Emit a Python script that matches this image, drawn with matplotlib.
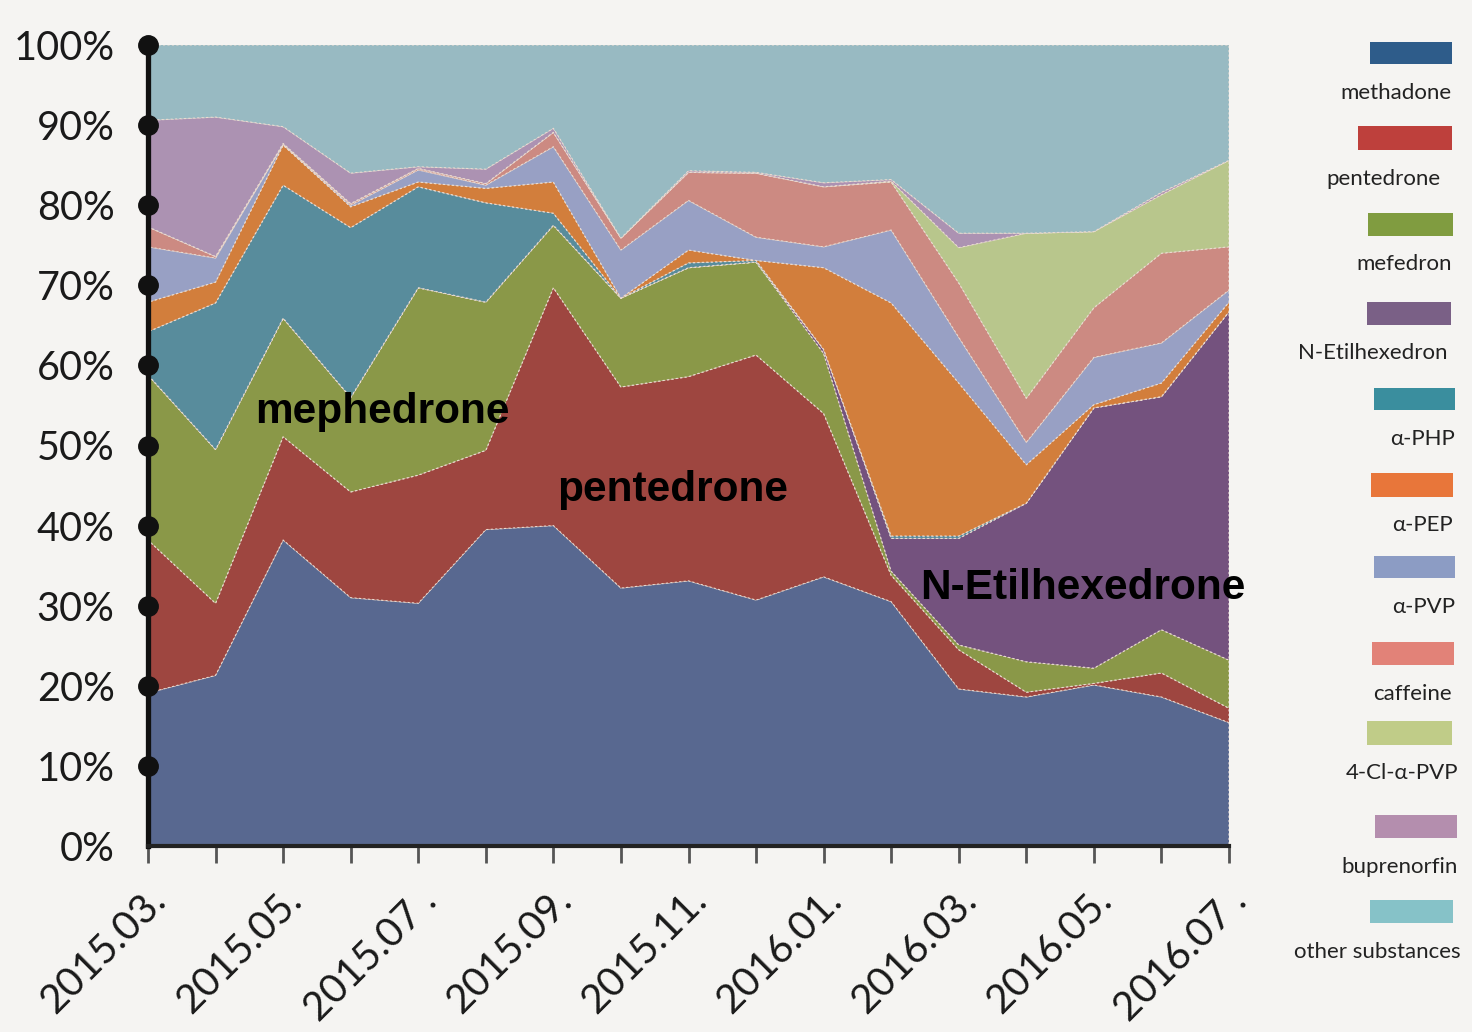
import numpy as np
import matplotlib
matplotlib.use("Agg")
import matplotlib.pyplot as plt
import matplotlib.transforms as mtransforms
from matplotlib.patches import Rectangle

# ---------------- data (percent of samples) ----------------
months = ["2015.03", "2015.04", "2015.05", "2015.06", "2015.07", "2015.08", "2015.09",
          "2015.10", "2015.11", "2015.12", "2016.01", "2016.02", "2016.03", "2016.04",
          "2016.05", "2016.06", "2016.07"]
tick_labels = ["2015.03.", "", "2015.05.", "", "2015.07 .", "", "2015.09.", "",
               "2015.11.", "", "2016.01.", "", "2016.03.", "", "2016.05.", "", "2016.07 ."]

series_names = ["methadone", "pentedrone", "mefedron", "N-Etilhexedron", "α-PHP", "α-PEP",
                "α-PVP", "caffeine", "4-Cl-α-PVP", "buprenorfin", "other substances"]

methadone = [19.1, 21.3, 38.2, 31.0, 30.3, 39.5, 40.0, 32.2, 33.1, 30.7, 33.6, 30.5, 19.6, 18.6, 20.1, 18.6, 15.4]
pentedrone = [19.1, 9.0, 12.9, 13.2, 16.0, 9.9, 29.7, 25.1, 25.5, 30.6, 20.4, 3.3, 4.9, 0.6, 0.2, 3.0, 1.8]
mefedron = [20.6, 19.2, 14.8, 11.8, 23.4, 18.5, 7.8, 11.1, 13.6, 11.6, 7.5, 0.5, 0.6, 3.8, 1.9, 5.4, 6.0]
n_etilhexedron = [0, 0, 0, 0, 0, 0, 0, 0, 0, 0, 0.5, 4.1, 13.3, 19.8, 32.5, 29.1, 43.5]
a_php = [5.4, 18.3, 16.6, 21.2, 12.6, 12.4, 1.5, 0, 0.6, 0.2, 0, 0.3, 0.3, 0, 0, 0, 0]
a_pep = [3.7, 2.6, 5.0, 2.6, 0.6, 1.8, 3.9, 0, 1.6, 0, 10.2, 29.1, 19.1, 4.8, 0.4, 1.7, 1.2]
a_pvp = [6.9, 3.0, 0.1, 0.2, 1.5, 0.4, 4.4, 6.0, 6.2, 2.9, 2.6, 9.1, 5.7, 2.8, 5.9, 5.0, 1.5]
caffeine = [2.5, 0.2, 0.1, 0.2, 0.2, 0.2, 1.8, 1.5, 3.5, 8.0, 7.5, 6.0, 6.8, 5.5, 6.2, 11.2, 5.4]
cl_a_pvp = [0, 0, 0, 0, 0, 0, 0, 0, 0, 0, 0, 0.1, 4.4, 20.6, 9.5, 7.3, 10.8]
buprenorfin = [13.3, 17.4, 2.1, 3.8, 0.2, 1.8, 0.5, 0, 0.2, 0.1, 0.5, 0.2, 1.8, 0, 0, 0.3, 0]
other = [9.4, 9.0, 10.2, 16.0, 15.2, 15.5, 10.4, 24.1, 15.7, 15.9, 17.2, 16.8, 23.5, 23.5, 23.3, 18.4, 14.4]

series = [methadone, pentedrone, mefedron, n_etilhexedron, a_php, a_pep,
          a_pvp, caffeine, cl_a_pvp, buprenorfin, other]

# ---------------- styles ----------------
fill_colors = ["#586890", "#9E4640", "#8A9848", "#74527E", "#588C9C", "#D27E3C",
               "#98A0C4", "#CC8A82", "#B8C68C", "#AC92B2", "#98BAC2"]
legend_colors = ["#2E5C8A", "#BE403C", "#809C40", "#7A6086", "#3A8E9E", "#E8763A",
                 "#8C9CC4", "#E28278", "#C0CC88", "#B48EAE", "#86C2C8"]
BG = "#f5f4f2"
W, H = 1472, 1032

fig = plt.figure(figsize=(W / 100, H / 100), dpi=100, facecolor=BG)
ax = fig.add_axes([148 / W, 1 - 846 / H, (1229 - 148) / W, (846 - 45) / H])
ax.set_facecolor(BG)

x = np.arange(len(months))
ax.stackplot(x, *series, colors=fill_colors, edgecolor="#eadbd0",
             linewidth=0.8, linestyle=(0, (2, 2)))
ax.set_xlim(0, len(months) - 1)
ax.set_ylim(0, 100)

for s in ["top", "right"]:
    ax.spines[s].set_visible(False)
ax.spines["left"].set_linewidth(3.8)
ax.spines["left"].set_color("#111111")
ax.spines["bottom"].set_linewidth(3.0)
ax.spines["bottom"].set_color("#222222")
ax.spines["left"].set_zorder(6)
ax.spines["bottom"].set_zorder(6)

yt = list(range(0, 101, 10))
ax.set_yticks(yt)
ax.set_yticklabels([f"{v}%" for v in yt], fontfamily="Lato", fontsize=28.5, color="#1a1a1a")
ax.tick_params(axis="y", length=0, pad=24)
ax.plot(np.zeros(len(yt) - 1), yt[1:], "o", color="#111111", ms=14,
        clip_on=False, zorder=7)

ax.set_xticks(x)
ax.set_xticklabels(tick_labels, fontfamily="Lato", fontsize=29, color="#1a1a1a",
                   rotation=45, ha="right", va="center", rotation_mode="anchor")
ax.tick_params(axis="x", length=12, width=2, color="#555555", direction="out", pad=23)
shift = mtransforms.ScaledTranslation(12 / 100, 0, fig.dpi_scale_trans)
for lab in ax.get_xticklabels():
    lab.set_transform(lab.get_transform() + shift)

# annotations
ann_font = dict(fontfamily="Liberation Sans", fontweight="bold", fontsize=30.5,
                color="black", va="center", ha="left")
ax.text(1.58, 54.2, "mephedrone", **ann_font)
ax.text(6.05, 44.4, "pentedrone", **ann_font)
ax.text(11.43, 32.2, "N-Etilhexedrone", clip_on=False, **ann_font)

# legend (patch above, label below, right aligned)
legend_layout = [
    (1370, 1452, 42, 64, 1451, 93),
    (1358, 1452, 126, 150, 1440, 179),
    (1368, 1453, 213, 236, 1452, 264),
    (1367, 1451, 302, 325, 1448, 353),
    (1374, 1455, 388, 410, 1455, 439),
    (1371, 1453, 473, 497, 1453, 525),
    (1374, 1455, 556, 578, 1455, 607),
    (1372, 1454, 642, 665, 1452, 694),
    (1367, 1452, 721, 745, 1458, 773),
    (1375, 1457, 815, 838, 1458, 867),
    (1370, 1453, 900, 923, 1461, 952),
]
for name, col, (x0, x1, y0, y1, tx, ty) in zip(series_names, legend_colors, legend_layout):
    fig.patches.append(Rectangle((x0 / W, 1 - y1 / H), (x1 - x0) / W, (y1 - y0) / H,
                                 transform=fig.transFigure, facecolor=col,
                                 edgecolor="none"))
    fig.text(tx / W, 1 - ty / H, name, fontfamily="Lato", fontsize=16,
             color="#222222", ha="right", va="center")

fig.savefig("out.png", dpi=100, facecolor=BG)
